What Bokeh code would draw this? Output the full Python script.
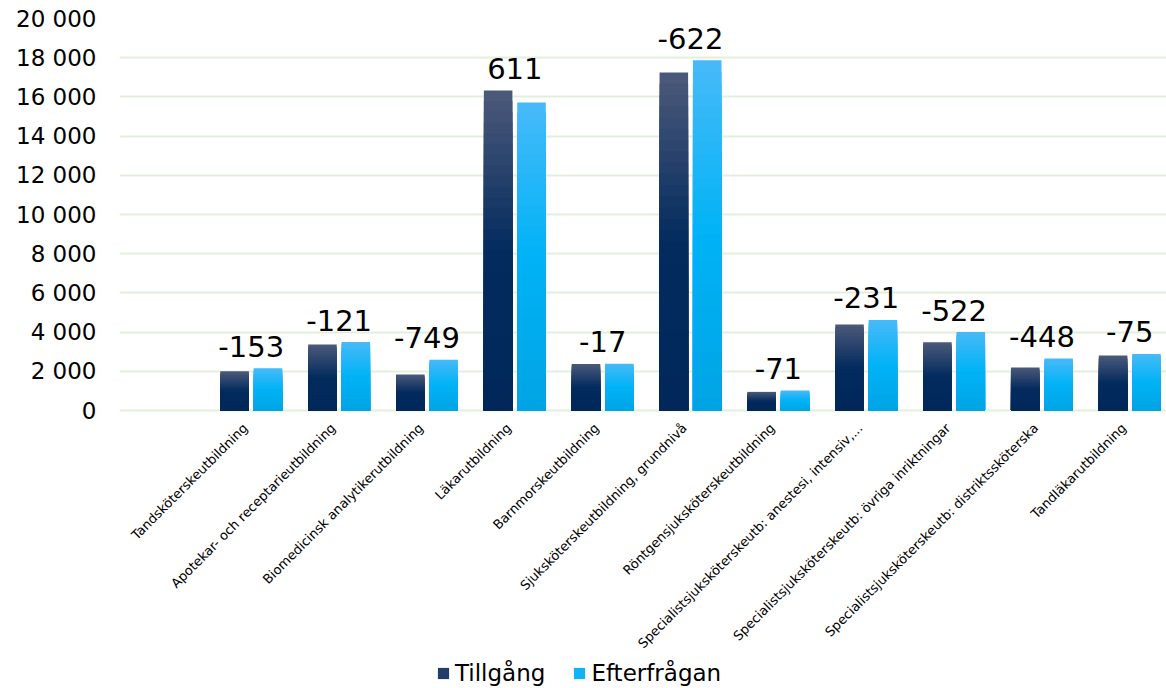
import math
from bokeh.plotting import figure
from bokeh.models import Range1d, FixedTicker, Legend, LegendItem, ColumnDataSource
from bokeh.embed import file_html
from bokeh.resources import INLINE
from bokeh.core.properties import value

# ---------------- data ----------------
categories = [
    "",
    "Tandsköterskeutbildning",
    "Apotekar- och receptarieutbildning",
    "Biomedicinsk analytikerutbildning",
    "Läkarutbildning",
    "Barnmorskeutbildning",
    "Sjuksköterskeutbildning, grundnivå",
    "Röntgensjuksköterskeutbildning",
    "Specialistsjuksköterskeutb: anestesi, intensiv,...",
    "Specialistsjuksköterskeutb: övriga inriktningar",
    "Specialistsjuksköterskeutb: distriktssköterska",
    "Tandläkarutbildning",
]
tillgang = [None, 2000, 3370, 1840, 16330, 2370, 17250, 950, 4390, 3480, 2200, 2810]
efterfragan = [None, 2153, 3491, 2589, 15719, 2387, 17872, 1021, 4621, 4002, 2648, 2885]
series_names = ["Tillgång", "Efterfrågan"]
y_ticks = [0, 2000, 4000, 6000, 8000, 10000, 12000, 14000, 16000, 18000, 20000]
y_tick_labels = ["0", "2 000", "4 000", "6 000", "8 000", "10 000", "12 000",
                 "14 000", "16 000", "18 000", "20 000"]

# ---------------- style / layout ----------------
FONT = "DejaVu Sans"
W, H = 1166, 688
LEFT, TOP = 119, 18
PLOT_H = 392            # pixel height of the 0..20000 value area
Y_MAX = 20000
below_px = H - TOP - PLOT_H
y_min = -below_px * Y_MAX / PLOT_H   # room under the zero line for labels and legend
x_max = (W - LEFT) / 87.85

dark_stops = [(2, 40, 90), (3, 43, 94), (76, 90, 122)]      # bottom, middle, top
light_stops = [(0, 164, 228), (0, 179, 246), (72, 186, 248)]
N_SLICES = 30
BAR_W = 0.325
OFFSETS = [-0.19, 0.19]


def grad_color(stops, f):
    if f < 0.5:
        a, b, t = stops[0], stops[1], f / 0.5
    else:
        a, b, t = stops[1], stops[2], (f - 0.5) / 0.5
    c = [round(a[j] + (b[j] - a[j]) * t) for j in range(3)]
    return "#%02x%02x%02x" % tuple(c)


p = figure(width=W, height=H,
           x_range=Range1d(0, x_max), y_range=Range1d(y_min, Y_MAX),
           output_backend="svg", toolbar_location=None,
           min_border_left=LEFT, min_border_right=0,
           min_border_top=TOP, min_border_bottom=0)
p.outline_line_color = None
p.background_fill_color = "white"

# grid
p.xgrid.visible = False
p.ygrid.ticker = FixedTicker(ticks=y_ticks)
p.ygrid.grid_line_color = "#e2f0d9"
p.ygrid.grid_line_width = 2

# gradient bars: nested slices, drawn from full height down to the smallest
for vals, off, stops in [(tillgang, OFFSETS[0], dark_stops), (efterfragan, OFFSETS[1], light_stops)]:
    xs, tops, cols = [], [], []
    for k in reversed(range(N_SLICES)):
        f = (k + 0.5) / N_SLICES
        col = grad_color(stops, f)
        for i, v in enumerate(vals):
            if v is None:
                continue
            xs.append(i + 0.5 + off)
            tops.append(v * (k + 1) / N_SLICES)
            cols.append(col)
    src = ColumnDataSource(dict(x=xs, top=tops, color=cols))
    p.vbar(x="x", top="top", bottom=0, width=BAR_W, fill_color="color",
           line_color=None, source=src)

# difference labels
lx, ly, lt = [], [], []
for i, (t, e) in enumerate(zip(tillgang, efterfragan)):
    if t is None:
        continue
    lx.append(i + 0.5)
    ly.append(max(t, e))
    lt.append(str(t - e))
p.text(x=lx, y=ly, text=lt, text_align="center", text_baseline="alphabetic",
       y_offset=-22, text_font=value(FONT), text_font_size="29px", text_color="#000000")

# category labels (rotated 45°, ending at the category centre); offsets act in the rotated frame
ANG = math.pi / 4
cx = [i + 0.5 for i, c in enumerate(categories) if c]
ct = [c for c in categories if c]
p.text(x=cx, y=[0] * len(cx), text=ct, angle=ANG,
       text_align="right", text_baseline="top", x_offset=-11.3, y_offset=9.9,
       text_font=value(FONT), text_font_size="13px", text_color="#000000")

# axes
p.xaxis.visible = False
p.yaxis.ticker = FixedTicker(ticks=y_ticks)
p.yaxis.major_label_overrides = {t: l for t, l in zip(y_ticks, y_tick_labels)}
p.yaxis.major_label_text_font = FONT
p.yaxis.major_label_text_font_size = "23px"
p.yaxis.major_label_text_color = "#000000"
p.yaxis.major_label_standoff = 17
p.yaxis.axis_line_color = None
p.yaxis.major_tick_line_color = None
p.yaxis.minor_tick_line_color = None

# legend; hidden one-row renderers only provide the swatches
r1 = p.vbar(x=[cx[0]], top=[tillgang[1]], width=BAR_W,
            fill_color=grad_color(dark_stops, 0.7), line_color=None, visible=False)
r2 = p.vbar(x=[cx[0]], top=[efterfragan[1]], width=BAR_W,
            fill_color=grad_color(light_stops, 0.6), line_color=None, visible=False)
legend = Legend(items=[LegendItem(label=series_names[0], renderers=[r1]),
                       LegendItem(label=series_names[1], renderers=[r2])],
                orientation="horizontal", location=(317, 2),
                glyph_width=14, glyph_height=14, label_standoff=5, spacing=27,
                padding=0, margin=0, border_line_color=None, background_fill_alpha=0,
                inactive_fill_alpha=0,
                label_text_font=FONT, label_text_font_size="23px", label_text_color="#000000")
p.add_layout(legend)

open("out.html", "w").write(file_html(p, INLINE))
